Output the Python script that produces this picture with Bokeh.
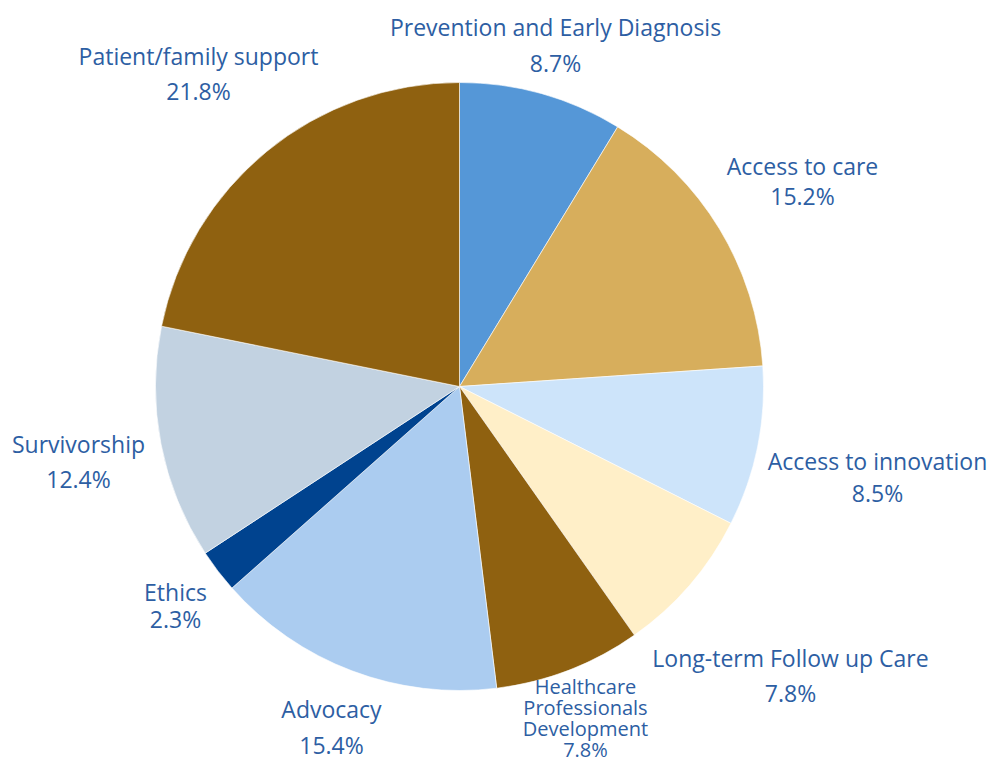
import numpy as np
from bokeh.plotting import figure
from bokeh.models import ColumnDataSource, Range1d
from bokeh.core.properties import value
from bokeh.embed import file_html
from bokeh.resources import INLINE

categories = ["Prevention and Early Diagnosis", "Access to care", "Access to innovation",
              "Long-term Follow up Care", "Healthcare\nProfessionals\nDevelopment", "Advocacy",
              "Ethics", "Survivorship", "Patient/family support"]
shares = [8.7, 15.2, 8.5, 7.8, 7.8, 15.4, 2.3, 12.4, 21.8]
colors = ["#5597D7", "#D7AE5C", "#CDE4FA", "#FFEFC8", "#8F6110", "#ABCCF0",
          "#00438F", "#C2D2E1", "#8F6110"]

W, H = 990, 765
cx, cy, R = 459, H - 386, 304

# label anchor positions (pixel centers of the first text line), line gap, font size
label_pos = [(555, 26, 36, 23), (802, 165, 30, 23), (877, 460, 32, 23), (790, 657, 35, 23),
             (585, 686, 21, 20), (331, 708, 36, 23), (175, 591, 27, 23), (78, 443, 35, 23),
             (198, 55, 35, 23)]

vals = np.array(shares)
cum = np.concatenate([[0], np.cumsum(vals)]) / vals.sum()
start = np.pi / 2 - cum[:-1] * 2 * np.pi
end = np.pi / 2 - cum[1:] * 2 * np.pi

p = figure(width=W, height=H, output_backend="svg", toolbar_location=None,
           x_range=Range1d(0, W), y_range=Range1d(0, H), min_border=0)
p.axis.visible = False
p.grid.visible = False
p.outline_line_color = None
p.background_fill_color = "white"

src = ColumnDataSource(dict(start=start, end=end, color=colors, name=categories))
p.wedge(x=cx, y=cy, radius=R, start_angle="start", end_angle="end", direction="clock",
        fill_color="color", line_color="white", line_width=0.6, source=src)

for name, s, (px, py, gap, fs) in zip(categories, shares, label_pos):
    lines = name.split("\n") + [f"{s}%"]
    tx = [px] * len(lines)
    ty = [H - (py + i * gap) for i in range(len(lines))]
    p.text(x=tx, y=ty, text=lines, text_align="center", text_baseline="middle",
           text_font=value("Open Sans"), text_font_size=f"{fs}px", text_color="#2D5EA3")

open("out.html", "w").write(file_html(p, INLINE))
